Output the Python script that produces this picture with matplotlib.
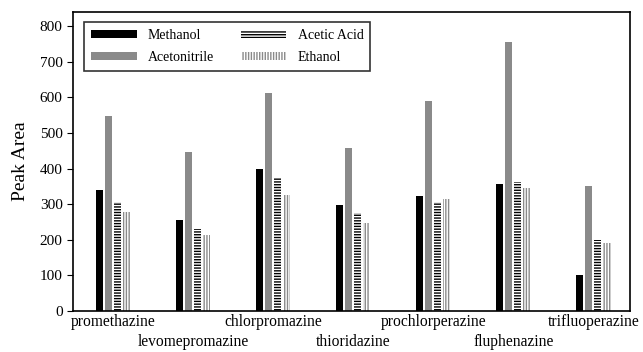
import matplotlib
matplotlib.use('Agg')
import matplotlib.pyplot as plt
import numpy as np

# drugs and peak areas per solvent
drugs = ['promethazine', 'levomepromazine', 'chlorpromazine', 'thioridazine',
         'prochlorperazine', 'fluphenazine', 'trifluoperazine']
methanol = [340, 256, 400, 297, 323, 357, 102]
acetonitrile = [548, 447, 611, 459, 590, 755, 352]
acetic_acid = [306, 231, 374, 276, 307, 363, 199]
ethanol = [279, 213, 327, 246, 315, 345, 191]

plt.rcParams['font.family'] = ['Liberation Serif', 'DejaVu Serif']
plt.rcParams['hatch.linewidth'] = 1.0

fig = plt.figure(figsize=(6.43, 3.52), dpi=100)
ax = fig.add_axes([0.1135, 0.1165, 0.8665, 0.8495])

x = np.arange(len(drugs))
w = 0.09

ax.bar(x - 0.17, methanol, w, color='black', label='Methanol')
ax.bar(x - 0.056, acetonitrile, w, color='#8a8a8a', label='Acetonitrile')
plt.rcParams['hatch.color'] = 'black'
ax.bar(x + 0.056, acetic_acid, w, color='white', edgecolor='black', linewidth=0,
       hatch='------', label='Acetic Acid')
plt.rcParams['hatch.color'] = '#8a8a8a'
ax.bar(x + 0.17, ethanol, w, color='white', edgecolor='#8a8a8a', linewidth=0,
       hatch='||||||', label='Ethanol')

ax.set_xlim(-0.5, 6.46)
ax.set_ylim(0, 840)
ax.set_yticks(range(0, 801, 100))
ax.set_ylabel('Peak Area', fontsize=14, labelpad=8)
ax.tick_params(axis='y', direction='out', length=4, labelsize=11)

ax.set_xticks(x)
ax.set_xticklabels(drugs, fontsize=11.2)
ax.tick_params(axis='x', length=0, pad=2)
for i, t in enumerate(ax.xaxis.get_major_ticks()):
    if i % 2 == 1:
        t.set_pad(16.5)

for s in ax.spines.values():
    s.set_linewidth(1.2)

leg = ax.legend(ncol=2, loc='upper left', bbox_to_anchor=(0.02, 0.965),
                frameon=True, fancybox=False, edgecolor='black', fontsize=10,
                handlelength=3.3, handleheight=0.5, columnspacing=1.9,
                borderpad=0.5, labelspacing=0.6, borderaxespad=0)
leg.get_frame().set_linewidth(1.2)

fig.savefig('out.png', dpi=100)
